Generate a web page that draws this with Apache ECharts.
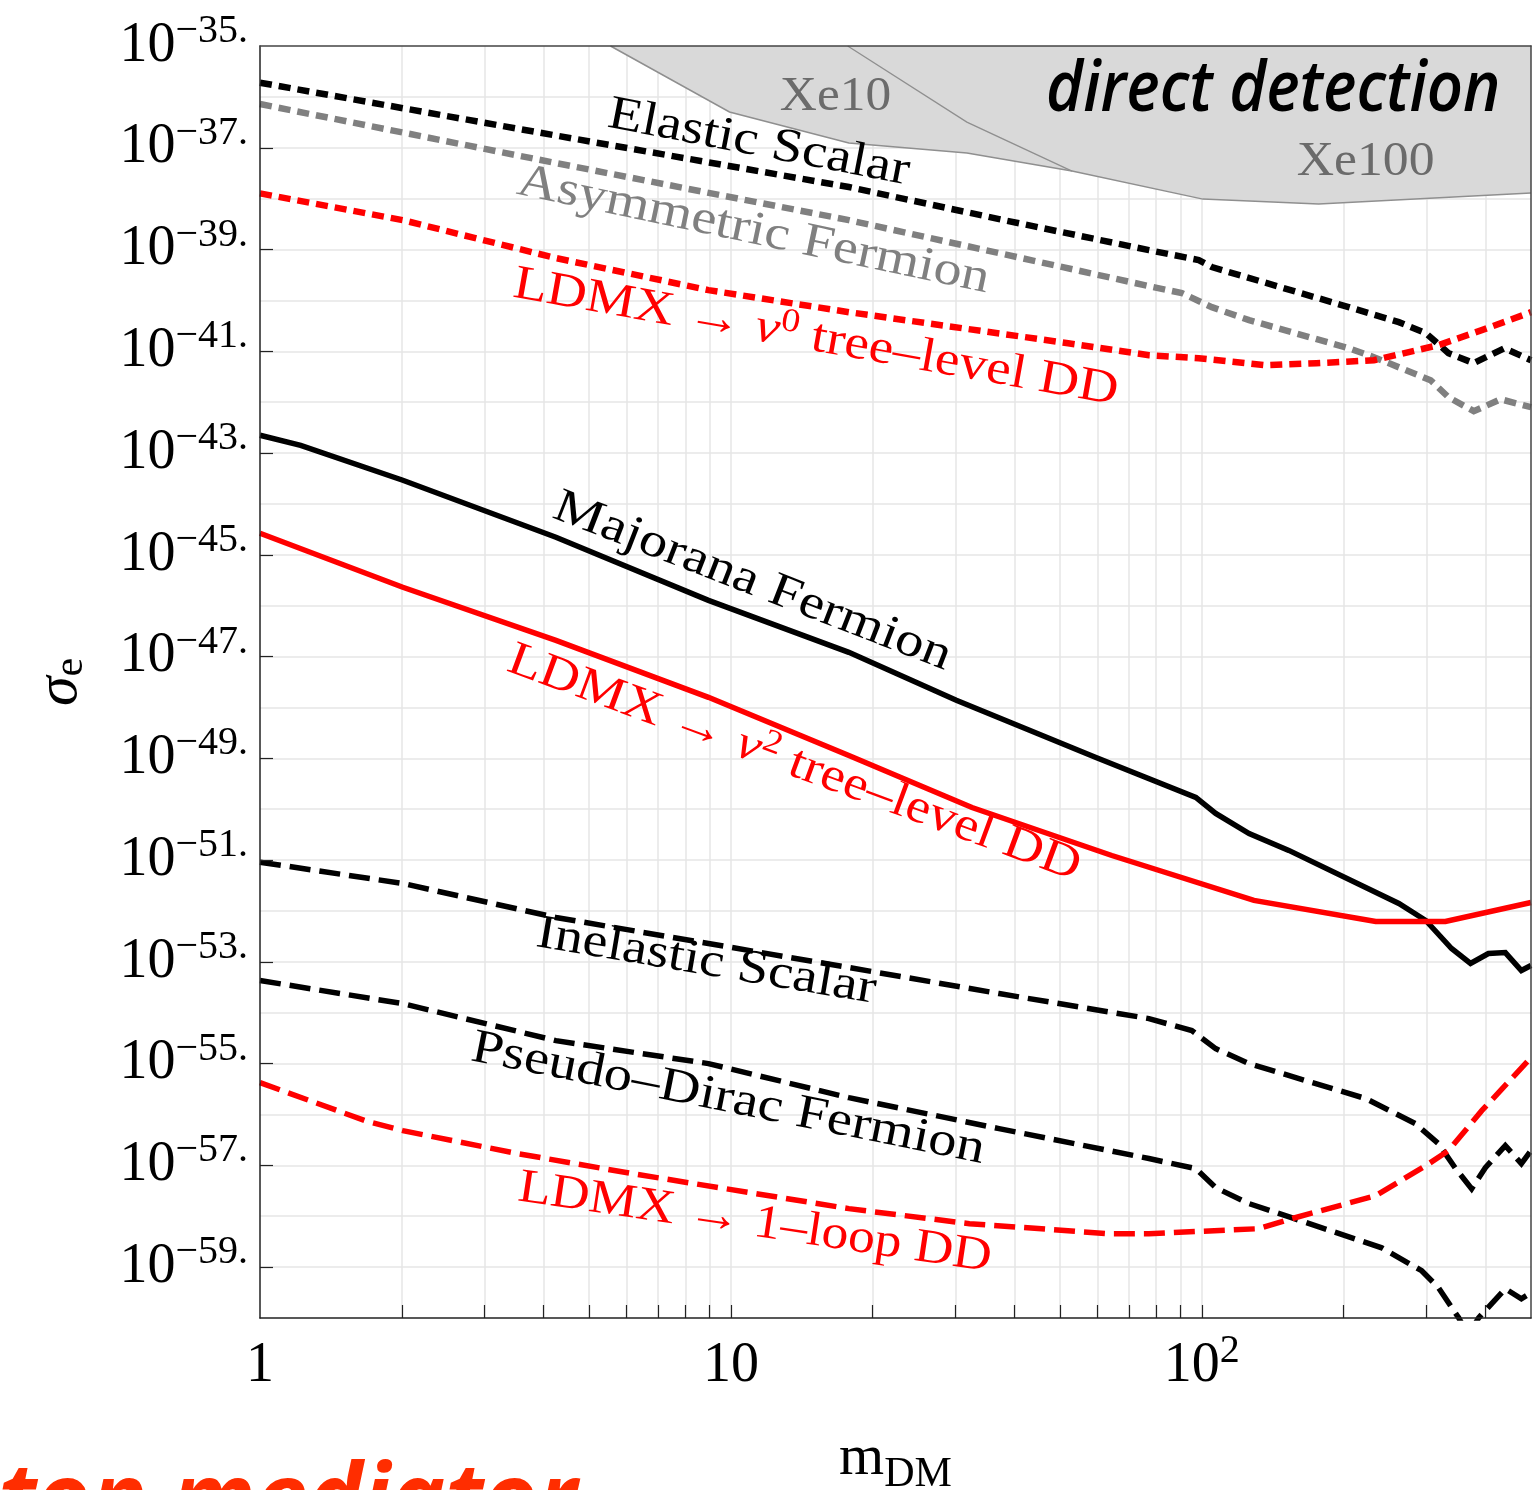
<!DOCTYPE html>
<html><head><meta charset="utf-8">
<script src="https://cdn.jsdelivr.net/npm/echarts@6/dist/echarts.min.js"></script>
<style>html,body{margin:0;padding:0;background:#fff}#chart{width:1536px;height:1490px}</style>
</head><body><div id="chart"></div>
<script>
// ---------------- data (m_DM, sigma_e) ----------------
const elasticScalarM     = [1, 4.25, 17.8, 37.1, 77.2, 98.5, 105, 205, 262, 299, 334, 378, 439, 500];
const elasticScalarSigma = [1.9e-36, 1.74e-37, 1.69e-38, 3.96e-39, 9.73e-40, 6.19e-40, 4.52e-40, 7.38e-41, 3.74e-41, 2.28e-41, 9.18e-42, 5.85e-42, 1.15e-41, 6.68e-42];

const asymFermionM     = [1, 4.25, 17.8, 77.2, 90.7, 105, 126, 205, 232, 306, 334, 378, 431, 500];
const asymFermionSigma = [7.23e-37, 5.0e-38, 3.78e-39, 1.91e-40, 1.39e-40, 7.36e-41, 4.09e-41, 1.15e-41, 7.66e-42, 2.70e-42, 1.25e-42, 6.64e-43, 1.14e-42, 7.96e-43];

const ldmxV0M     = [1, 2.01, 4.25, 8.96, 17.8, 52, 77.2, 98.5, 136, 175, 232, 318, 393, 500];
const ldmxV0Sigma = [1.27e-38, 3.78e-39, 6.78e-40, 1.59e-40, 5.87e-41, 1.44e-41, 8.38e-42, 7.31e-42, 5.33e-42, 5.83e-42, 6.68e-42, 1.32e-41, 2.60e-41, 5.87e-41];

const majoranaM     = [1, 1.22, 2.01, 4.25, 8.96, 17.8, 30.1, 59.6, 97.1, 107, 126, 153, 262, 299, 339, 372, 406, 441, 477, 500];
const majoranaSigma = [2.24e-43, 1.42e-43, 2.92e-44, 2.21e-45, 1.27e-46, 1.21e-47, 1.38e-48, 1.04e-49, 1.70e-50, 8.26e-51, 3.33e-51, 1.55e-51, 1.40e-52, 6.49e-53, 1.83e-53, 9.27e-54, 1.46e-53, 1.52e-53, 6.75e-54, 8.45e-54];

const ldmxV2M     = [1, 2.01, 4.25, 8.96, 17.8, 32.5, 64.4, 129, 234, 329, 500];
const ldmxV2Sigma = [2.65e-45, 2.30e-46, 2.08e-47, 1.58e-48, 1.14e-49, 1.08e-50, 1.23e-51, 1.61e-52, 6.21e-53, 6.21e-53, 1.47e-52];

const inelasticM     = [1, 2.01, 4.25, 8.96, 17.8, 37.1, 77.2, 95.2, 107, 126, 223, 284, 318, 346, 374, 400, 441, 477, 500];
const inelasticSigma = [9.10e-52, 3.47e-52, 7.45e-53, 2.29e-53, 7.73e-54, 2.38e-54, 7.67e-55, 4.46e-55, 1.97e-55, 1.00e-55, 2.05e-56, 6.61e-57, 2.67e-57, 8.61e-58, 3.48e-58, 9.02e-58, 2.44e-57, 1.08e-57, 1.95e-57];

const pseudoDiracM     = [1, 2.01, 4.25, 8.96, 17.8, 37.1, 77.2, 97.1, 107, 126, 155, 241, 293, 318, 351, 368, 387, 441, 477, 500];
const pseudoDiracSigma = [4.29e-54, 1.51e-54, 2.83e-55, 1.00e-55, 2.14e-56, 5.27e-57, 1.36e-57, 8.61e-58, 3.64e-58, 1.77e-58, 9.35e-59, 2.40e-59, 8.49e-60, 3.94e-60, 1.01e-60, 4.47e-61, 1.01e-60, 3.76e-60, 2.39e-60, 3.13e-60];

const ldmxLoopM     = [1, 1.67, 2.01, 3.53, 6.18, 17.8, 32.1, 63.5, 77.2, 132, 155, 234, 299, 334, 393, 500];
const ldmxLoopSigma = [4.24e-56, 7.57e-57, 4.81e-57, 1.70e-57, 6.87e-58, 1.41e-58, 7.14e-59, 4.54e-59, 4.54e-59, 5.69e-59, 8.93e-59, 2.54e-58, 9.86e-58, 1.95e-57, 1.19e-56, 1.31e-55];

// direct-detection excluded region (lower edge) and Xe10/Xe100 divider
const xeEdgeM     = [5.55, 9.93, 17.8, 31.7, 53, 100.5, 177, 500];
const xeEdgeSigma = [1e-35, 5.04e-37, 1.24e-37, 7.87e-38, 3.48e-38, 9.79e-39, 7.82e-39, 1.29e-38];
const xeDividerM     = [17.7, 31.7, 53];
const xeDividerSigma = [1e-35, 3.20e-37, 3.48e-38];

// axes (y axis is drawn in decades: exponent of sigma)
const xMin = 1, xMax = 500;
const yMinExp = -60, yMaxExp = -35;
const xLabelValues = [1, 10, 100];
const xTickValues  = [2, 3, 4, 5, 6, 7, 8, 9, 10, 20, 30, 40, 50, 60, 70, 80, 90, 100, 200, 300, 400];
const xGridValues  = [2, 3, 4, 5, 6, 7, 8, 9, 10, 20, 30, 40, 50, 60, 70, 80, 90, 100, 200, 300, 400];
const yLabelExps   = [-35, -37, -39, -41, -43, -45, -47, -49, -51, -53, -55, -57, -59];
const yTickExps    = [-37, -39, -41, -43, -45, -47, -49, -51, -53, -55, -57, -59];
const yGridExps    = [-36, -37, -38, -39, -40, -41, -42, -43, -44, -45, -46, -47, -48, -49, -50,
                      -51, -52, -53, -54, -55, -56, -57, -58, -59];

// ---------------- styling ----------------
const SERIF = "'Liberation Serif','Times New Roman',serif";
const SANS = "'Open Sans','Noto Sans',sans-serif";
const toPts = (m, s) => m.map((v, i) => [v, Math.log10(s[i])]);

const tickRich = {
  b: { fontFamily: SERIF, fontSize: 56, lineHeight: 66, color: '#000' },
  s: { fontFamily: SERIF, fontSize: 40, lineHeight: 37, color: '#000', padding: [0, 0, 29, 0] }
};

function curve(name, m, s, color, width, type, z) {
  return {
    name, type: 'line', data: toPts(m, s), xAxisIndex: 0, yAxisIndex: 0,
    showSymbol: false, symbol: 'none', smooth: false, z: z || 4, silent: true,
    lineStyle: { color, width, type, cap: 'butt', join: 'miter' }
  };
}
const DOT = [12, 7], DASH = [21, 9];

const chart = echarts.init(document.getElementById('chart'), null, { renderer: 'canvas', width: 1536, height: 1490 });

const option = {
  animation: false,
  backgroundColor: '#fff',
  grid: { left: 260, right: 5, top: 46, bottom: 172, show: false, containLabel: false, outerBoundsMode: 'none' },
  xAxis: [{
    type: 'log', logBase: 10, min: xMin, max: xMax, position: 'bottom', z: 10,
    name: '{m|m}{s|DM}', nameLocation: 'middle', nameGap: 106,
    nameTextStyle: { rich: {
      m: { fontFamily: SERIF, fontSize: 58, lineHeight: 70, color: '#000' },
      s: { fontFamily: SERIF, fontSize: 42, lineHeight: 42, color: '#000', padding: [31, 0, 0, 0] } } },
    axisLine: { show: true, onZero: false, lineStyle: { color: '#222', width: 1.5 } },
    axisTick: { show: true, inside: true, length: 13, customValues: xTickValues, lineStyle: { color: '#222', width: 1.2 } },
    axisLabel: { show: true, margin: 15, customValues: xLabelValues, rich: tickRich,
      formatter: v => { const e = Math.round(Math.log10(v)); return e === 0 ? '{b|1}' : (e === 1 ? '{b|10}' : '{b|10}{s|' + e + '}'); } },
    splitLine: { show: false }, minorTick: { show: false }
  }, {
    type: 'log', logBase: 10, min: xMin, max: xMax, position: 'top', z: 10,
    axisLine: { show: true, onZero: false, lineStyle: { color: '#444', width: 1.5 } },
    axisTick: { show: false }, axisLabel: { show: false }, splitLine: { show: false }
  }],
  yAxis: [{
    type: 'value', min: yMinExp, max: yMaxExp, interval: 1, position: 'left', z: 10,
    name: '{a|σ}{b|e}', nameLocation: 'middle', nameGap: 170, nameRotate: 90,
    nameTextStyle: { rich: {
      a: { fontFamily: SERIF, fontStyle: 'italic', fontSize: 60, lineHeight: 60, color: '#000' },
      b: { fontFamily: SERIF, fontSize: 42, lineHeight: 42, color: '#000', padding: [22, 0, 0, 0] } } },
    axisLine: { show: true, onZero: false, lineStyle: { color: '#222', width: 1.5 } },
    axisTick: { show: true, inside: true, length: 13, customValues: yTickExps, lineStyle: { color: '#222', width: 1.2 } },
    axisLabel: { show: true, margin: 12, customValues: yLabelExps, rich: tickRich,
      formatter: v => '{b|10}{s|\u2212' + Math.abs(Math.round(v)) + '.}' },
    splitLine: { show: false }, minorTick: { show: false }
  }, {
    type: 'value', min: yMinExp, max: yMaxExp, interval: 1, position: 'right', z: 10,
    axisLine: { show: true, onZero: false, lineStyle: { color: '#444', width: 1.5 } },
    axisTick: { show: false }, axisLabel: { show: false }, splitLine: { show: false }
  }],
  series: [
    { // grid lines through the axes' scales
      name: 'grid', type: 'line', data: [], xAxisIndex: 0, yAxisIndex: 0, silent: true, z: 1,
      markLine: {
        z: 1, silent: true, symbol: ['none', 'none'], label: { show: false }, animation: false,
        emphasis: { disabled: true },
        lineStyle: { color: '#e6e6e6', width: 1.5, type: 'solid' },
        data: xGridValues.map(v => ({ xAxis: v })).concat(yGridExps.map(v => ({ yAxis: v })))
      }
    },
    { // shaded direct-detection region
      name: 'direct detection', type: 'custom', coordinateSystem: 'cartesian2d', xAxisIndex: 0, yAxisIndex: 0,
      z: 2, silent: true, clip: true, data: toPts(xeEdgeM, xeEdgeSigma),
      renderItem: (params, api) => {
        if (params.dataIndex !== 0) return null;
        const pts = toPts(xeEdgeM, xeEdgeSigma).map(p => api.coord(p));
        pts.push(api.coord([xeEdgeM[xeEdgeM.length - 1], yMaxExp]));
        return { type: 'polygon', shape: { points: pts }, style: { fill: '#d9d9d9', stroke: null } };
      }
    },
    curve('Xe edge', xeEdgeM, xeEdgeSigma, '#8f8f8f', 1.5, 'solid', 3),
    curve('Xe divider', xeDividerM, xeDividerSigma, '#8f8f8f', 1.3, 'solid', 3),
    curve('Elastic Scalar', elasticScalarM, elasticScalarSigma, '#000000', 6.5, DOT),
    curve('Asymmetric Fermion', asymFermionM, asymFermionSigma, '#808080', 6.5, DOT),
    curve('LDMX v0 tree-level DD', ldmxV0M, ldmxV0Sigma, '#ff0000', 6.5, DOT),
    curve('Majorana Fermion', majoranaM, majoranaSigma, '#000000', 5.5, 'solid'),
    curve('LDMX v2 tree-level DD', ldmxV2M, ldmxV2Sigma, '#ff0000', 5.5, 'solid'),
    curve('Inelastic Scalar', inelasticM, inelasticSigma, '#000000', 5.5, DASH),
    curve('Pseudo-Dirac Fermion', pseudoDiracM, pseudoDiracSigma, '#000000', 5.5, DASH),
    curve('LDMX 1-loop DD', ldmxLoopM, ldmxLoopSigma, '#ff0000', 5.5, DASH)
  ]
};
chart.setOption(option);

// ---------------- in-plot annotations (anchored in data coordinates) ----------------
const annStyles = {
  b:   { fontFamily: SERIF, fontSize: 48, fontStyle: 'normal', fontWeight: 'normal', lineHeight: 60 },
  it:  { fontFamily: SERIF, fontSize: 48, fontStyle: 'italic', fontWeight: 'normal', lineHeight: 60 },
  sup: { fontFamily: SERIF, fontSize: 33, fontStyle: 'normal', fontWeight: 'normal', lineHeight: 33, padding: [0, 0, 22, 0] },
  dd:  { fontFamily: SANS, fontSize: 70, fontStyle: 'italic', fontWeight: 600, lineHeight: 82 }
};
const annotations = [
  { segs: [['b', 'Elastic Scalar']], color: '#000000', from: [5.50, 4.60e-37], to: [23.9, 3.33e-38] },
  { segs: [['b', 'Asymmetric Fermion']], color: '#808080', from: [3.53, 2.21e-38], to: [35.3, 2.50e-40] },
  { segs: [['b', 'LDMX \u2192 '], ['it', 'v'], ['sup', '0'], ['b', ' tree\u2013level DD']], color: '#ff0000', from: [3.46, 2.09e-40], to: [66.3, 1.57e-42] },
  { segs: [['b', 'Majorana Fermion']], color: '#000000', from: [4.24, 9.40e-45], to: [29.1, 9.23e-48] },
  { segs: [['b', 'LDMX \u2192 '], ['it', 'v'], ['sup', '2'], ['b', ' tree\u2013level DD']], color: '#ff0000', from: [3.39, 9.23e-48], to: [54.8, 6.84e-52] },
  { segs: [['b', 'Inelastic Scalar']], color: '#000000', from: [3.87, 3.61e-53], to: [20.3, 2.73e-54] },
  { segs: [['b', 'Pseudo\u2013Dirac Fermion']], color: '#000000', from: [2.82, 2.07e-55], to: [34.5, 1.95e-57] },
  { segs: [['b', 'LDMX \u2192 1\u2013loop DD']], color: '#ff0000', from: [3.54, 3.64e-58], to: [35.7, 1.46e-59] },
  { segs: [['b', 'Xe10']], color: '#6b6b6b', from: [12.7, 9.70e-37], to: [21.9, 9.70e-37] },
  { segs: [['b', 'Xe100']], color: '#6b6b6b', from: [159, 5.12e-38], to: [312, 5.12e-38] },
  { segs: [['dd', 'direct detection']], color: '#000000', from: [46.7, 1.30e-36], to: [430.6, 1.30e-36] }
];

const mctx = document.createElement('canvas').getContext('2d');
const cssFont = st => `${st.fontStyle || 'normal'} ${st.fontWeight || 'normal'} ${st.fontSize}px ${st.fontFamily}`;

const graphics = annotations.map(a => {
  const p0 = chart.convertToPixel({ gridIndex: 0 }, [a.from[0], Math.log10(a.from[1])]);
  const p1 = chart.convertToPixel({ gridIndex: 0 }, [a.to[0], Math.log10(a.to[1])]);
  const dx = p1[0] - p0[0], dy = p1[1] - p0[1];
  const L = Math.hypot(dx, dy);
  let W = 0;
  a.segs.forEach(([k, t]) => { mctx.font = cssFont(annStyles[k]); W += mctx.measureText(t).width; });
  const rich = {};
  Object.keys(annStyles).forEach(k => { rich[k] = Object.assign({}, annStyles[k], { fill: a.color }); });
  const base = annStyles[a.segs[0][0]];
  return {
    type: 'text', x: p0[0], y: p0[1], rotation: -Math.atan2(dy, dx), scaleX: L / W, scaleY: 1,
    z: 100, silent: true,
    style: {
      text: a.segs.map(([k, t]) => '{' + k + '|' + t + '}').join(''), rich,
      fill: a.color, font: cssFont(base),
      align: 'left', verticalAlign: 'middle', textAlign: 'left', textVerticalAlign: 'middle'
    }
  };
});

// clipped slide caption at the page bottom
graphics.push({
  type: 'text', x: 577, y: 1503, z: 100, silent: true,
  style: { text: 'ton mediator', fill: '#ff2d00', font: "italic bold 93px 'Open Sans','Noto Sans',sans-serif",
    align: 'right', verticalAlign: 'middle', textAlign: 'right', textVerticalAlign: 'middle' }
});

chart.setOption({ graphic: graphics });
</script>
</body></html>
